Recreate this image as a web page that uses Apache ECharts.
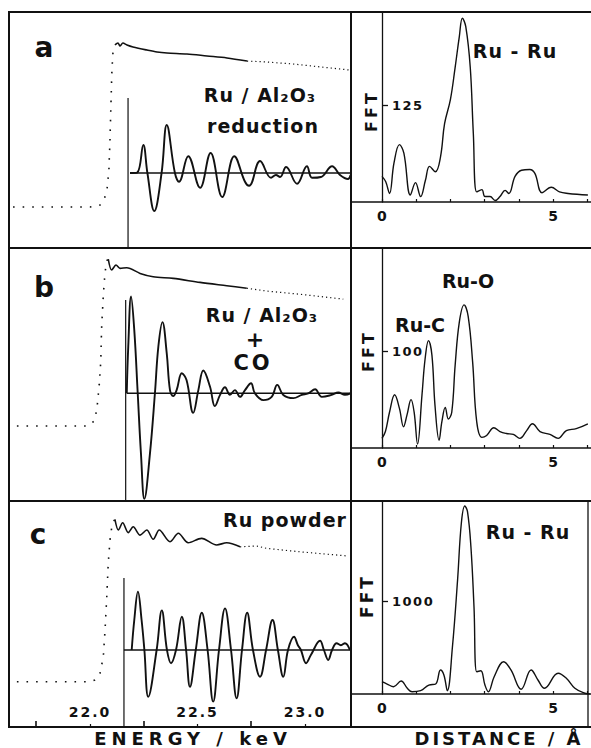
<!DOCTYPE html>
<html><head><meta charset="utf-8">
<script src="https://cdn.jsdelivr.net/npm/echarts@6/dist/echarts.min.js"></script>
<style>html,body{margin:0;padding:0;background:#fff}#c{width:591px;height:748px}</style>
</head><body><div id="c"></div>
<script>
// ---------------- DATA ----------------
// Energy axis (keV)
const energyLabels = [22.0, 22.5, 23.0];
const energyTicksMajor = [21.75, 22.25, 22.75];
// Distance axis (Å)
const distanceLabels = [0, 5];
const distanceTicks = [0, 1, 2, 3, 4, 5, 6];
// FFT y ticks per panel
const fftTickA = 125, fftTickB = 100, fftTickC = 1000;

// Panel a : Ru/Al2O3 reduction  (absorption: normalised; chi: arb. units)
const absEdgeA = [[21.642,0],[22.000,0],[22.047,0.012],[22.065,0.043],[22.079,0.104],[22.088,0.226],[22.093,0.409],[22.098,0.652],[22.102,0.835],[22.107,0.945],[22.116,0.988]];
const absMainA = [[22.116,0.988],[22.130,1.000],[22.140,0.982],[22.153,1.000],[22.172,0.988],[22.200,0.976],[22.265,0.957],[22.312,0.945],[22.358,0.939],[22.451,0.933],[22.544,0.921],[22.637,0.909],[22.730,0.890]];
const absTailA = [[22.730,0.890],[22.823,0.884],[22.944,0.872],[23.209,0.835]];
const chiA = [[22.186,0],[22.219,0.01],[22.248,0.70],[22.267,0],[22.299,-0.95],[22.333,0],[22.357,1.20],[22.395,0],[22.414,-0.22],[22.457,0.42],[22.512,-0.37],[22.561,0.50],[22.615,-0.60],[22.671,0.42],[22.721,-0.22],[22.740,-0.32],[22.791,0.30],[22.842,-0.12],[22.865,-0.05],[22.884,-0.10],[22.912,0.15],[22.963,-0.27],[23.009,0.17],[23.033,-0.12],[23.074,-0.10],[23.126,0.17],[23.163,-0.05],[23.200,-0.15],[23.212,-0.05]];
const chiBaseA = [[22.186,0],[23.214,0]];
const chiEdgeA = [[22.177,-1.9],[22.177,1.875]];
const fftA = [[0,33],[0.11,26],[0.22,11],[0.35,50],[0.51,74],[0.64,63],[0.83,9],[0.98,25],[1.13,7],[1.27,28],[1.39,46],[1.56,39],[1.71,58],[1.83,101],[2.0,132],[2.14,174],[2.26,213],[2.35,237],[2.45,226],[2.58,174],[2.67,89],[2.77,13],[2.92,16],[3.01,7],[3.16,7],[3.31,2],[3.45,7],[3.6,15],[3.71,11],[3.89,33],[4.08,41],[4.32,42],[4.47,37],[4.68,12],[4.95,19],[5.19,13],[5.44,11],[6.02,9]];

// Panel b : Ru/Al2O3 + CO
const absEdgeB = [[21.660,0],[21.986,0],[22.000,0.006],[22.023,0.036],[22.034,0.126],[22.043,0.246],[22.050,0.383],[22.054,0.587],[22.062,0.784],[22.070,0.922],[22.080,0.994],[22.085,1.000]];
const absMainB = [[22.085,1.000],[22.101,0.934],[22.121,0.964],[22.140,0.944],[22.171,0.948],[22.233,0.914],[22.294,0.894],[22.387,0.884],[22.512,0.860],[22.636,0.840],[22.729,0.825]];
const absTailB = [[22.729,0.825],[22.822,0.808],[22.977,0.789],[23.178,0.760]];
const chiB = [[22.171,0],[22.178,1.17],[22.191,2.42],[22.206,1.58],[22.222,0],[22.237,-1.50],[22.253,-2.64],[22.279,-1.50],[22.302,0],[22.318,1.17],[22.337,1.78],[22.357,1.00],[22.372,0.08],[22.387,-0.07],[22.403,0.08],[22.427,0.50],[22.449,0.33],[22.480,-0.49],[22.504,0.08],[22.527,0.57],[22.558,0.17],[22.581,-0.32],[22.605,-0.04],[22.628,0.15],[22.651,-0.04],[22.674,0.08],[22.698,-0.09],[22.721,0.08],[22.749,0.25],[22.767,0],[22.806,-0.17],[22.845,-0.09],[22.871,0.21],[22.899,-0.04],[22.946,-0.12],[22.985,-0.04],[23.015,0],[23.047,0.10],[23.078,-0.09],[23.124,-0.04],[23.155,0.02],[23.186,-0.04],[23.212,0]];
const chiBaseB = [[22.171,0],[23.214,0]];
const chiEdgeB = [[22.166,-2.7],[22.166,2.33]];
const fftB = [[0,10],[0.10,17],[0.22,37],[0.37,55],[0.51,41],[0.63,22],[0.73,34],[0.85,50],[0.94,37],[1.04,4],[1.17,55],[1.26,92],[1.36,111],[1.46,96],[1.55,44],[1.67,8],[1.75,27],[1.85,42],[1.94,30],[2.04,37],[2.14,86],[2.26,130],[2.40,148],[2.52,136],[2.65,89],[2.77,27],[2.92,11],[3.06,13],[3.27,21],[3.45,17],[3.64,15],[3.84,14],[4.03,10],[4.23,18],[4.40,25],[4.62,17],[4.91,14],[5.15,10],[5.39,18],[5.68,20],[6.02,25]];

// Panel c : Ru powder
const absEdgeC = [[21.660,0],[22.000,0],[22.023,0.010],[22.047,0.054],[22.062,0.154],[22.070,0.318],[22.078,0.523],[22.085,0.731],[22.093,0.873],[22.104,0.977],[22.116,1.000]];
const absMainC = [[22.116,1.000],[22.132,0.934],[22.152,0.979],[22.178,0.918],[22.201,0.954],[22.233,0.903],[22.264,0.934],[22.294,0.877],[22.322,0.934],[22.372,0.862],[22.411,0.914],[22.457,0.856],[22.519,0.883],[22.589,0.842],[22.636,0.856],[22.698,0.831]];
const absTailC = [[22.698,0.831],[22.775,0.836],[22.822,0.821],[22.977,0.800],[23.201,0.774]];
const chiC = [[22.194,0],[22.206,0.75],[22.223,1.46],[22.240,0.75],[22.253,0],[22.271,-1.17],[22.310,0],[22.334,0.99],[22.358,0],[22.377,-0.33],[22.400,0],[22.427,0.83],[22.447,0],[22.465,-0.92],[22.492,0],[22.520,0.93],[22.547,0],[22.573,-1.29],[22.600,0],[22.628,1.04],[22.656,0],[22.682,-1.21],[22.707,0],[22.731,0.93],[22.758,0],[22.791,-0.67],[22.819,0],[22.849,0.75],[22.874,0],[22.899,-0.67],[22.921,0],[22.949,0.33],[22.967,0.12],[22.981,0],[23.005,-0.33],[23.028,-0.12],[23.070,0.23],[23.088,0],[23.108,-0.25],[23.126,0],[23.147,0.17],[23.167,0.12],[23.186,0.17],[23.209,0]];
const chiBaseC = [[22.158,0],[23.214,0]];
const chiEdgeC = [[22.158,-1.95],[22.158,1.8]];
const fftC = [[0,133],[0.15,108],[0.34,79],[0.56,141],[0.74,62],[0.88,25],[1.13,36],[1.37,97],[1.57,108],[1.71,260],[1.81,206],[1.91,36],[2.06,512],[2.21,1235],[2.32,1849],[2.42,2036],[2.50,1974],[2.60,1595],[2.69,945],[2.77,241],[2.89,252],[3.01,97],[3.11,25],[3.28,187],[3.56,350],[3.77,260],[4.07,51],[4.36,260],[4.56,152],[4.75,62],[5.15,224],[5.39,170],[5.64,62],[5.93,8],[6.08,0]];

// ---------------- LAYOUT ----------------
const INK = '#111';
const FONT = '"DejaVu Sans", sans-serif';
const EMIN = 21.6233, EMAX = 23.2140;   // energy extent of left panels
const RMIN = -0.906, RMAX = 6.111;      // distance extent of right panels
const panels = [
  {top: 12,  h: 236, base: 202, mu: [-0.25, 1.189],  chi: [-1.875, 4.025], fmax: 245,  tick: fftTickA},
  {top: 248, h: 253, base: 448, mu: [-0.449, 1.066], chi: [-2.693, 3.633], fmax: 206.8, tick: fftTickB},
  {top: 501, h: 226, base: 694, mu: [-0.279, 1.113], chi: [-1.925, 3.725], fmax: 2090, tick: fftTickC}
];
const DIV = 351, ZERO_X = 382;

const grids = [], xAxes = [], yAxes = [];
const gb = {containLabel: false, outerBoundsMode: 'none'};
panels.forEach((p, i) => {
  grids.push(Object.assign({left: 9, top: p.top, width: DIV - 9, height: p.h}, gb));
  grids.push(Object.assign({left: DIV, top: p.top, width: 591 - DIV, height: p.base - p.top}, gb));
});
// extra grids whose left edge is R = 0 : carry the FFT intensity axes
panels.forEach((p, i) => {
  grids.push(Object.assign({left: ZERO_X, top: p.top, width: 591 - ZERO_X, height: p.base - p.top}, gb));
});
const hiddenE = g => ({gridIndex: g, type: 'value', min: EMIN, max: EMAX, show: false, axisLine: {onZero: false}});
const fftX = g => ({gridIndex: g, type: 'value', min: RMIN, max: RMAX,
  axisLine: {show: true, onZero: false, lineStyle: {color: INK, width: 1.6}},
  axisTick: {show: true, inside: true, length: 3, customValues: distanceTicks, lineStyle: {color: INK, width: 1.2}},
  axisLabel: {show: true, customValues: distanceLabels, margin: 7, color: INK, fontSize: 14, fontWeight: 'bold', fontFamily: FONT},
  splitLine: {show: false}});
xAxes.push(hiddenE(0), fftX(1), hiddenE(2), fftX(3));
xAxes.push({gridIndex: 4, type: 'value', min: EMIN, max: EMAX, position: 'bottom',
  axisLine: {show: true, onZero: false, lineStyle: {color: INK, width: 2}},
  axisTick: {show: true, inside: true, length: 6, customValues: energyTicksMajor, lineStyle: {color: INK, width: 1.6}},
  axisLabel: {show: false}, splitLine: {show: false}});
xAxes.push(fftX(5));
xAxes.push({gridIndex: 4, type: 'value', min: EMIN, max: EMAX, position: 'bottom',
  axisLine: {show: false, onZero: false},
  axisTick: {show: true, inside: true, length: 3, customValues: energyLabels, lineStyle: {color: INK, width: 1.2}},
  axisLabel: {show: true, inside: true, customValues: energyLabels, formatter: v => v.toFixed(1), margin: 8,
    color: INK, fontSize: 14, fontWeight: 'bold', fontFamily: FONT},
  splitLine: {show: false}});
// hidden x axes of the R=0 grids (indices 7,8,9)
panels.forEach((p, i) => {
  xAxes.push({gridIndex: 6 + i, type: 'value', min: 0, max: RMAX, show: false, axisLine: {onZero: false}});
});

panels.forEach((p, i) => {
  yAxes.push({gridIndex: 2 * i, type: 'value', min: p.mu[0], max: p.mu[1], show: false});
  yAxes.push({gridIndex: 2 * i, type: 'value', min: p.chi[0], max: p.chi[1], show: false, position: 'left'});
  yAxes.push({gridIndex: 2 * i + 1, type: 'value', min: 0, max: p.fmax, show: false});
});
// visible FFT intensity axes (indices 9,10,11)
panels.forEach((p, i) => {
  yAxes.push({gridIndex: 6 + i, type: 'value', min: 0, max: p.fmax, position: 'left',
    axisLine: {show: true, onZero: false, lineStyle: {color: INK, width: 1.3}},
    axisTick: {show: true, inside: true, length: 6, customValues: [p.tick], lineStyle: {color: INK, width: 1.3}},
    axisLabel: {show: true, inside: true, margin: 10, customValues: [p.tick], formatter: v => String(v),
      color: INK, fontSize: 13, fontWeight: 'bold', fontFamily: FONT},
    splitLine: {show: false}});
});

function ln(data, xi, yi, o) {
  return {type: 'line', xAxisIndex: xi, yAxisIndex: yi, data: data, symbol: 'none', silent: true,
    smooth: o.smooth || false, clip: true,
    lineStyle: {color: INK, width: o.w || 1.5, type: o.dash || 'solid', cap: 'butt'}};
}
const dotEdge = [1.6, 8], dotTail = [1.2, 3];
const sets = [
  {edge: absEdgeA, main: absMainA, tail: absTailA, chi: chiA, base: chiBaseA, vert: chiEdgeA, fft: fftA},
  {edge: absEdgeB, main: absMainB, tail: absTailB, chi: chiB, base: chiBaseB, vert: chiEdgeB, fft: fftB},
  {edge: absEdgeC, main: absMainC, tail: absTailC, chi: chiC, base: chiBaseC, vert: chiEdgeC, fft: fftC}
];
const series = [];
sets.forEach((s, i) => {
  const xl = 2 * i, xr = 2 * i + 1, yMu = 3 * i, yChi = 3 * i + 1, yF = 3 * i + 2;
  series.push(ln(s.edge, xl, yMu, {w: 1.6, dash: dotEdge}));
  series.push(ln(s.main, xl, yMu, {w: 1.6, smooth: 0.3}));
  series.push(ln(s.tail, xl, yMu, {w: 1.2, dash: dotTail}));
  series.push(ln(s.base, xl, yChi, {w: 1.5}));
  series.push(ln(s.vert, xl, yChi, {w: 1.2}));
  series.push(ln(s.chi, xl, yChi, {w: 1.9, smooth: 0.4}));
  series.push(ln(s.fft, xr, yF, {w: 1.4, smooth: 0.4}));
});

// ---------------- DECORATION / TEXT ----------------
const txt = (t, x, y, size, extra) => Object.assign({type: 'text', x: x, y: y, z: 100,
  style: {text: t, fill: INK, font: 'bold ' + size + 'px ' + FONT, textAlign: 'center', textVerticalAlign: 'middle', verticalAlign: 'middle'}}, extra || {});
const hl = (x1, y1, x2, y2, w) => ({type: 'line', z: 90, shape: {x1: x1, y1: y1, x2: x2, y2: y2}, style: {stroke: INK, lineWidth: w || 2}});
const graphic = [
  {type: 'rect', z: 90, shape: {x: 9, y: 12, width: 620, height: 715}, style: {fill: 'none', stroke: INK, lineWidth: 2}},
  hl(9, 248, 591, 248), hl(9, 501, 591, 501), hl(DIV, 12, DIV, 727), hl(588, 501, 588, 727, 1.3),
  txt('a', 44, 47, 28), txt('b', 44, 287, 28), txt('c', 38, 534, 28),
  txt('Ru / Al₂O₃', 260, 95, 19), txt('reduction', 263, 126, 19),
  txt('Ru / Al₂O₃', 262, 315, 19), txt('+', 255, 339, 22), txt('CO', 253, 363, 21),
  txt('Ru powder', 285, 520, 19),
  txt('Ru - Ru', 515, 51, 19), txt('Ru-O', 468, 281, 19), txt('Ru-C', 420, 325, 19), txt('Ru - Ru', 528, 532, 19),
  txt('FFT', 371, 111, 16, {rotation: Math.PI / 2}),
  txt('FFT', 368, 351, 16, {rotation: Math.PI / 2}),
  txt('FFT', 367, 596, 17, {rotation: Math.PI / 2}),
  txt('ENERGY / keV', 193, 738, 18), txt('DISTANCE / Å', 499, 738, 18)
];

const chart = echarts.init(document.getElementById('c'), null, {renderer: 'svg', width: 591, height: 748});
chart.setOption({
  animation: false, backgroundColor: '#fff',
  grid: grids, xAxis: xAxes, yAxis: yAxes, series: series, graphic: graphic
});

const spacing = {'ENERGY / keV': 5, 'DISTANCE / Å': 3, 'reduction': 1, 'Ru / Al₂O₃': 1, 'Ru powder': 1,
  'Ru - Ru': 1, 'FFT': 3, 'CO': 3, '22.0': 2, '22.5': 2, '23.0': 2, '125': 1.5, '100': 1.5, '1000': 1.5};
function applySpacing() {
  document.querySelectorAll('#c text').forEach(t => {
    const s = spacing[t.textContent];
    if (s != null) t.style.letterSpacing = s + 'px';
  });
}
chart.on('finished', applySpacing);
setTimeout(applySpacing, 50);
setTimeout(applySpacing, 300);
</script></body></html>
